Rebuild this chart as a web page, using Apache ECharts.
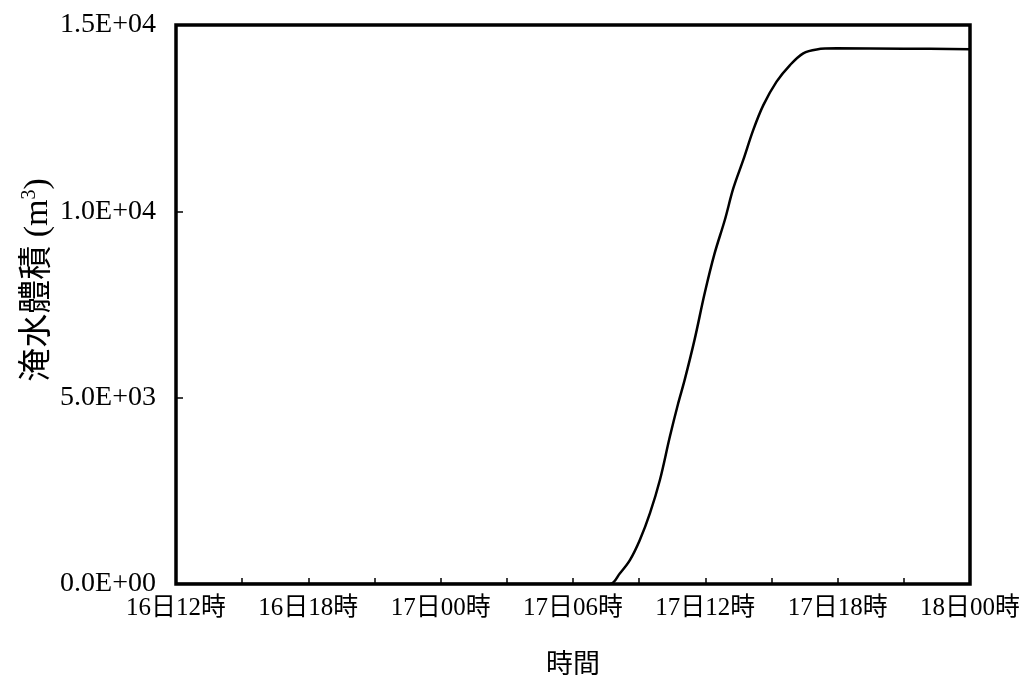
<!DOCTYPE html>
<html><head><meta charset="utf-8">
<script src="https://cdn.jsdelivr.net/npm/echarts@6/dist/echarts.min.js"></script>
<style>html,body{margin:0;padding:0;background:#fff}#c{width:1031px;height:686px}</style>
</head><body><div id="c"></div>
<script>
// hours since 16日12時
const hours = [0, 19.67, 20.13, 20.58, 21.03, 21.49, 21.94, 22.39, 22.77, 23.06, 23.51, 23.97, 24.42, 24.88, 25.27, 25.72, 26.17, 26.63, 27.23, 27.84, 28.44, 29.05, 29.95, 33, 36];
const volume = [0, 0, 290, 640, 1180, 1900, 2790, 3950, 4850, 5470, 6550, 7800, 8870, 9760, 10620, 11380, 12180, 12850, 13480, 13925, 14240, 14345, 14373, 14365, 14350];
const xTickLabels = ['16日12時','16日18時','17日00時','17日06時','17日12時','17日18時','18日00時'];
const yTitle = '淹水體積';
const xTitle = '時間';

const fontFam = '"Liberation Serif", "DejaVu Serif", "Noto Sans CJK TC", serif';
function fmtE(v){
  if (v === 0) return '0.0E+00';
  const e = Math.floor(Math.log10(v));
  const m = v / Math.pow(10, e);
  return m.toFixed(1) + 'E+' + String(e).padStart(2, '0');
}
const chart = echarts.init(document.getElementById('c'));
chart.setOption({
  animation: false,
  backgroundColor: '#fff',
  grid: {left: 176, top: 25, right: 61, bottom: 102, show: true, borderColor: '#000', borderWidth: 3.5, backgroundColor: 'transparent'},
  graphic: [{
    type: 'text', x: 38, y: 280, rotation: Math.PI / 2,
    style: {
      text: '{t|' + yTitle + ' (m}{s|3}{t|)}',
      align: 'center', verticalAlign: 'middle',
      rich: {
        t: {fontSize: 34, fontFamily: fontFam, fill: '#000'},
        s: {fontSize: 20, fontFamily: fontFam, fill: '#000', verticalAlign: 'top', padding: [0, 0, 16, 0]}
      }
    }
  }],
  xAxis: {
    type: 'value', min: 0, max: 36, interval: 6,
    axisLine: {show: false},
    axisTick: {show: true, inside: true, length: 6, lineStyle: {color: '#000', width: 1.5}},
    minorTick: {show: true, splitNumber: 2, length: 6, lineStyle: {color: '#000', width: 1.5}},
    splitLine: {show: false},
    axisLabel: {
      margin: 12, color: '#000', fontSize: 25, fontFamily: fontFam,
      formatter: v => xTickLabels[Math.round(v / 6)] || ''
    },
    name: xTitle, nameLocation: 'middle', nameGap: 68,
    nameTextStyle: {color: '#000', fontSize: 27, fontFamily: fontFam}
  },
  yAxis: {
    type: 'value', min: 0, max: 15000, interval: 5000,
    axisLine: {show: false},
    axisTick: {show: true, inside: true, length: 7, lineStyle: {color: '#000', width: 1.5}},
    splitLine: {show: false},
    axisLabel: {margin: 20, color: '#000', fontSize: 28, fontFamily: fontFam, formatter: fmtE}
  },
  series: [{
    type: 'line', data: hours.map((h, i) => [h, volume[i]]),
    smooth: 0.35, showSymbol: false,
    lineStyle: {color: '#000', width: 2.5}
  }]
});
</script></body></html>
